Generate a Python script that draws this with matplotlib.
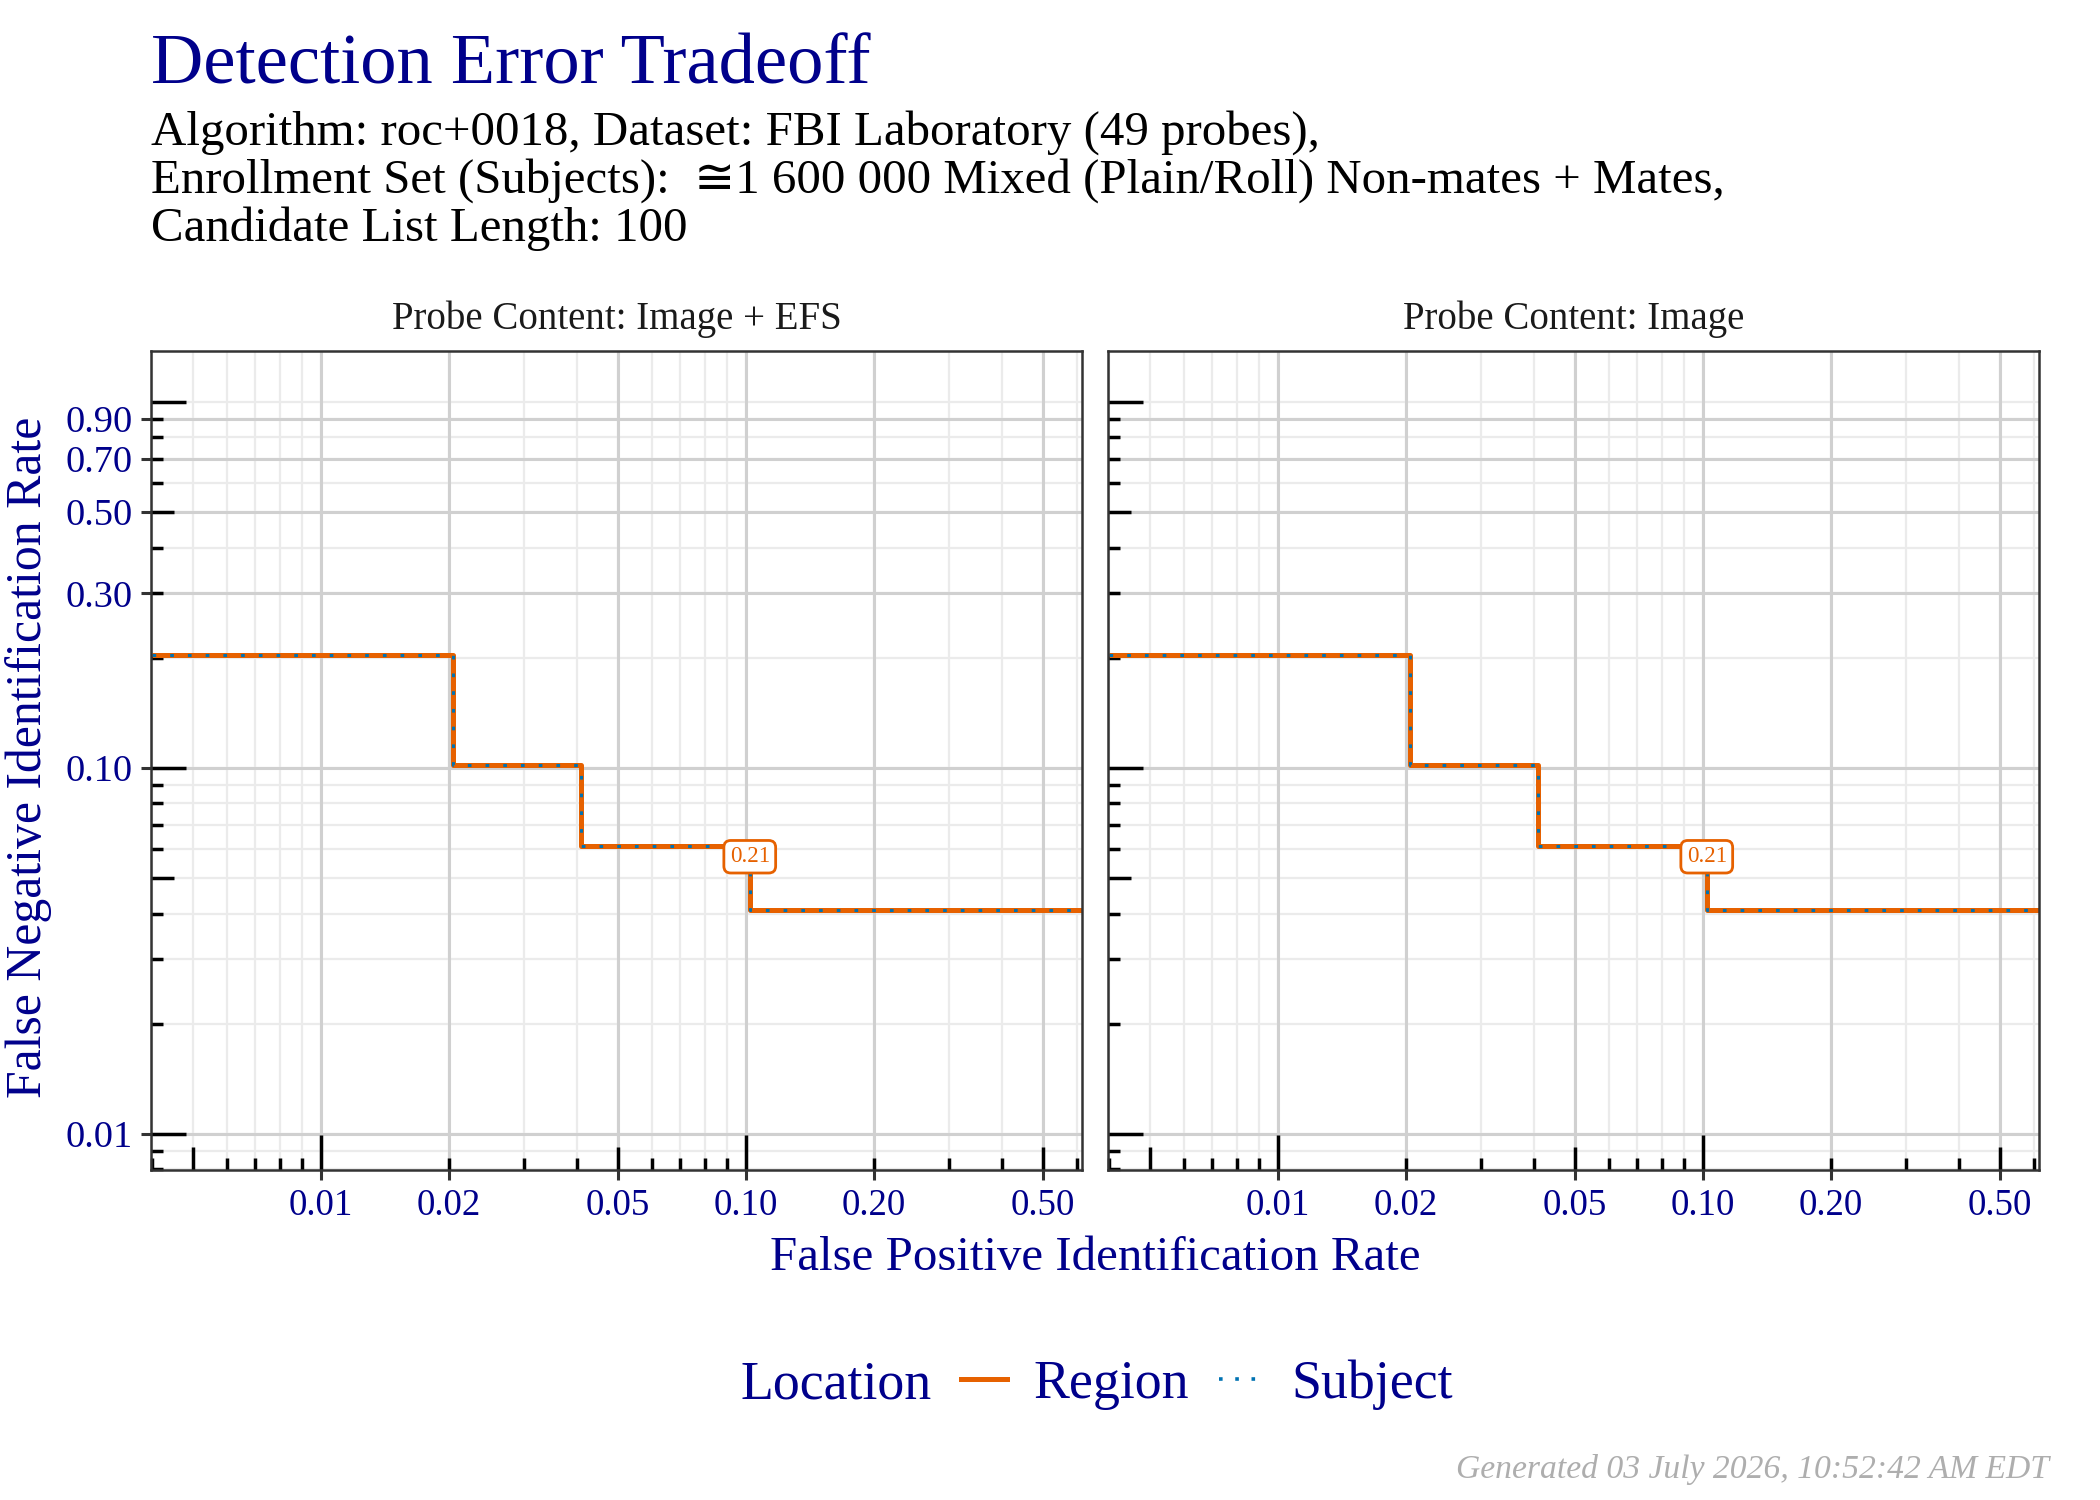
import matplotlib
matplotlib.use("Agg")
import matplotlib.pyplot as plt
from matplotlib.lines import Line2D
import numpy as np

plt.rcParams['font.family'] = ['Liberation Serif', 'DejaVu Serif', 'DejaVu Sans']

# ---------------- data ----------------
panels = ["Probe Content: Image + EFS", "Probe Content: Image"]
fpir = [0.0040, 0.0204, 0.0408, 0.1020, 1.0]
fnir_region = [0.2041, 0.1020, 0.0612, 0.0408, 0.0408]
fnir_subject = [0.2041, 0.1020, 0.0612, 0.0408, 0.0408]
label_text = "0.21"
label_x = 0.1020
label_y = 0.0572
x_breaks = [0.01, 0.02, 0.05, 0.10, 0.20, 0.50]
x_labels = ["0.01", "0.02", "0.05", "0.10", "0.20", "0.50"]
y_breaks = [0.01, 0.10, 0.30, 0.50, 0.70, 0.90]
y_labels = ["0.01", "0.10", "0.30", "0.50", "0.70", "0.90"]
xlim = (0.00398, 0.617)
ylim = (0.00797, 1.378)

title = "Detection Error Tradeoff"
subtitle_lines = ["Algorithm: roc+0018, Dataset: FBI Laboratory (49 probes),",
                  "Enrollment Set (Subjects):  \u22451 600 000 Mixed (Plain/Roll) Non-mates + Mates,",
                  "Candidate List Length: 100"]
footer = "Generated 03 July 2026, 10:52:42 AM EDT"
legend_title = "Location"
legend_labels = ["Region", "Subject"]

ORANGE = "#E66100"
BLUE = "#0072B2"
NAVY = "#00008B"

W, H = 2100, 1500
fig = plt.figure(figsize=(W / 200, H / 200), dpi=200)

def fx(px):
    return px / W

def fy(py):
    return 1 - py / H

panel_px = [(151, 1082), (1108, 2039)]
top_px, bot_px = 351, 1170

def log_positions(lo, hi):
    vals = []
    for k in range(-4, 1):
        for m in range(1, 10):
            v = m * 10.0 ** k
            if lo <= v <= hi:
                vals.append(v)
    return vals

for i, (l, r) in enumerate(panel_px):
    ax = fig.add_axes([fx(l), fy(bot_px), fx(r - l), (bot_px - top_px) / H])
    ax.set_xscale('log')
    ax.set_yscale('log')
    ax.set_xlim(*xlim)
    ax.set_ylim(*ylim)
    # grid
    for v in log_positions(*xlim):
        ax.axvline(v, color="#EBEBEB", lw=0.8, zorder=0)
    for v in log_positions(*ylim):
        ax.axhline(v, color="#EBEBEB", lw=0.8, zorder=0)
    for v in x_breaks:
        ax.axvline(v, color="#D0D0D0", lw=1.1, zorder=0.5)
    for v in y_breaks:
        ax.axhline(v, color="#D0D0D0", lw=1.1, zorder=0.5)

    # log ticks (annotation_logticks style)
    Hp = bot_px - top_px
    Wp = r - l
    lens = {'long': 35, 'mid': 23, 'short': 12}
    def kind(v):
        m = round(v / 10 ** np.floor(np.log10(v) + 1e-9))
        if m == 1:
            return 'long'
        if m == 5:
            return 'mid'
        return 'short'
    xt = ax.get_xaxis_transform()
    for v in log_positions(*xlim):
        ax.plot([v, v], [0, lens[kind(v)] / Hp], color="black", lw=1.25,
                transform=xt, solid_capstyle='butt', zorder=3, clip_on=False)
    yt = ax.get_yaxis_transform()
    for v in log_positions(*ylim):
        ax.plot([0, lens[kind(v)] / Wp], [v, v], color="black", lw=1.25,
                transform=yt, solid_capstyle='butt', zorder=3, clip_on=False)

    # curves
    ax.plot(fpir, fnir_region, drawstyle='steps-post', color=ORANGE, lw=1.8,
            solid_capstyle='butt', zorder=4)
    ax.plot(fpir, fnir_subject, drawstyle='steps-post', color=BLUE, lw=1.1,
            linestyle=(0, (1.2, 4.6)), dash_capstyle='butt', zorder=5)
    ax.text(label_x, label_y, label_text, color=ORANGE, fontsize=8.3,
            ha='center', va='center', zorder=6,
            bbox=dict(boxstyle="round,pad=0.25,rounding_size=0.3", fc="white",
                      ec=ORANGE, lw=1.0))

    ax.set_xticks(x_breaks)
    ax.set_xticklabels(x_labels)
    ax.minorticks_off()
    ax.tick_params(axis='x', which='major', direction='out', length=3.6, width=1.1,
                   color="#333333", labelcolor=NAVY, labelsize=13.3, pad=3)
    ax.set_yticks(y_breaks)
    if i == 0:
        ax.set_yticklabels(y_labels)
        ax.tick_params(axis='y', which='major', direction='out', length=3.6, width=1.1,
                       color="#333333", labelcolor=NAVY, labelsize=13.8, pad=3)
    else:
        ax.set_yticklabels([])
        ax.tick_params(axis='y', which='major', length=0)
    ax.minorticks_off()
    for s in ax.spines.values():
        s.set_color("#333333")
        s.set_linewidth(0.9)
        s.set_zorder(7)
    fig.text(fx((l + r) / 2), fy(319), panels[i], ha='center', va='center',
             fontsize=14, color="#1A1A1A")

fig.text(fx(151), fy(83), title, ha='left', va='baseline', fontsize=26.1, color=NAVY)
for j, line in enumerate(subtitle_lines):
    fig.text(fx(151), fy(145 + 48 * j), line, ha='left', va='baseline',
             fontsize=17.6, color="black")
fig.text(fx(1095), fy(1258), "False Positive Identification Rate", ha='center',
         va='center', fontsize=17.6, color=NAVY)
fig.text(fx(29), fy(757), "False Negative Identification Rate", ha='center',
         va='center', rotation=90, fontsize=17.9, color=NAVY)

# legend
fig.text(fx(740), fy(1385), legend_title, ha='left', va='center', fontsize=19.4, color=NAVY)
handles = [Line2D([], [], color=ORANGE, lw=1.8),
           Line2D([], [], color=BLUE, lw=1.3, linestyle=(0, (1, 3.5)))]
leg = fig.legend(handles, legend_labels, ncol=2, loc='center left',
                 bbox_to_anchor=(fx(961), fy(1385)), frameon=False, fontsize=19.4,
                 handlelength=0.85, handletextpad=0.5, columnspacing=0.55,
                 borderaxespad=0, borderpad=0)
for t in leg.get_texts():
    t.set_color(NAVY)

fig.text(fx(2049), fy(1478), footer, ha='right', va='baseline', fontsize=12.1,
         style='italic', color="#AEAEAE")

fig.savefig("out.png", dpi=200, facecolor="white")
